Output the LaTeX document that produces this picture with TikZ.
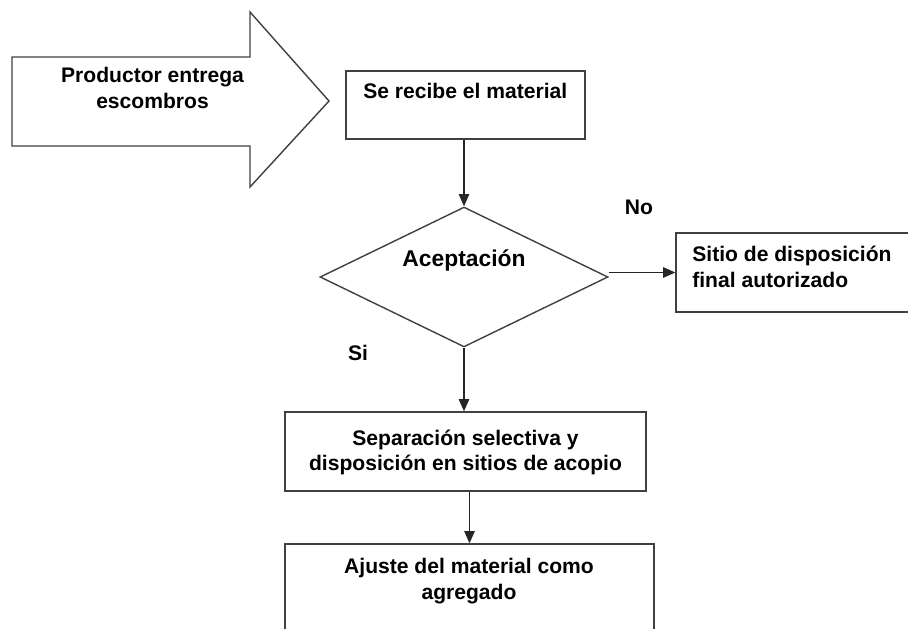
\documentclass[tikz,border=0pt]{standalone}
\usepackage{fontspec}
\setmainfont{Liberation Sans}
\usetikzlibrary{shapes.geometric}
\usetikzlibrary{arrows.meta}
\usetikzlibrary{positioning}

\begin{document}
\begin{tikzpicture}[x=0.02cm,y=-0.02cm]
\tikzset{procbox/.style={rectangle,draw=black!75,line width=0.8pt,inner sep=0pt},
boxtext/.style={font=\bfseries\fontsize{12}{14.5}\selectfont,align=center,inner sep=0pt},
flowarrow/.style={draw=black!85,line width=0.7pt,-{Triangle[length=7pt,width=6pt]}}}
\useasboundingbox (0,0) rectangle (908,628);
\clip (0,0) rectangle (908,628);
% block arrow on the left
\draw[draw=black!75,line width=0.8pt] (12,57) -- (250,57) -- (250,12) -- (329,101) -- (250,187) -- (250,146) -- (12,146) -- cycle;
\node[boxtext](prod) at (152.5,88){Productor entrega\\escombros};
% process boxes
\node[procbox,minimum width=4.78cm,minimum height=1.36cm](recibe) at (465.5,105){};
\node[boxtext](recibe-t) at (465.3,90.5){Se recibe el material};
\node[procbox,shape=diamond,minimum width=5.76cm,minimum height=2.8cm](acept) at (464,277){};
\node[boxtext,font=\bfseries\fontsize{13}{15}\selectfont](acept-t) at (464,260){Aceptación};
\node[procbox,minimum width=5.08cm,minimum height=1.58cm](sitio) at (803,272.5){};
\node[boxtext,align=left,anchor=west](sitio-t) at (692,267){Sitio de disposición\\final autorizado};
\node[procbox,minimum width=7.22cm,minimum height=1.58cm](sep) at (465.5,451.5){};
\node[boxtext](sep-t) at (465.5,452.5){Separación selectiva y\\disposición en sitios de acopio};
\node[procbox,minimum width=7.38cm,minimum height=2.32cm](ajuste) at (469.5,602){};
\node[boxtext](ajuste-t) at (469,581){Ajuste del material como\\agregado};
% branch labels
\node[boxtext](no) at (639,207){No};
\node[boxtext](si) at (358,353){Si};
% connectors
\draw[flowarrow](recibe.south -| acept.north) -- (acept.north);
\draw[flowarrow](acept.east |- sitio.west) -- (sitio.west);
\draw[flowarrow](acept.south) -- (acept.south |- sep.north);
\draw[flowarrow](sep.south -| ajuste.north) -- (ajuste.north);
\end{tikzpicture}
\end{document}
